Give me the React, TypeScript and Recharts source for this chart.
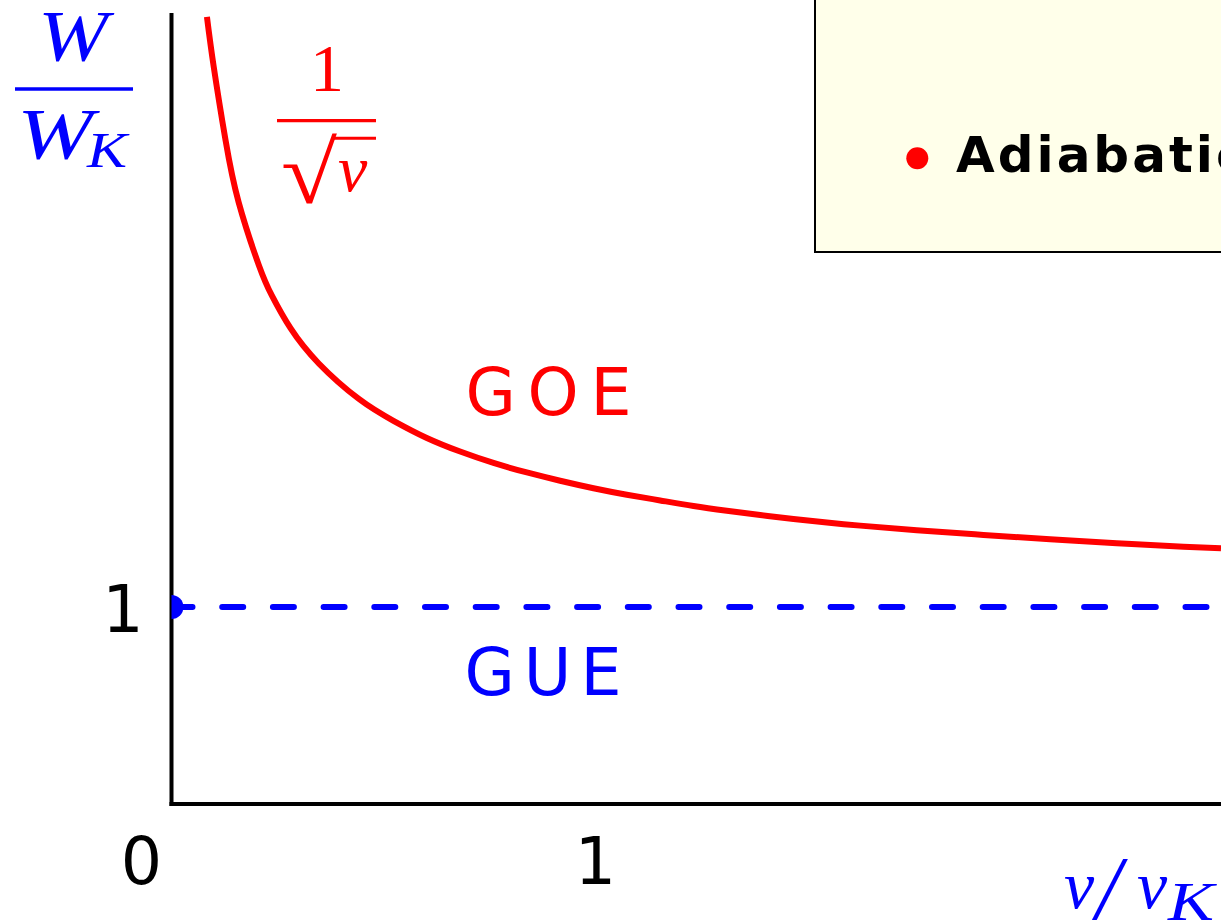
import React from 'react';
import { LineChart, Line, XAxis, YAxis, Legend, ReferenceDot, Label } from 'recharts';

// Width ratio W/W_K against speed v/v_K
const speedRatio = [
  0.084, 0.1, 0.128, 0.159, 0.207, 0.238, 0.282, 0.349, 0.444, 0.526,
  0.605, 0.684, 0.763, 0.842, 0.921, 1.0, 1.079, 1.158, 1.237, 1.316,
  1.395, 1.474, 1.553, 1.632, 1.766, 1.924, 2.082, 2.24, 2.398, 2.487,
];
const goeWidth = [
  3.996, 3.743, 3.37, 3.055, 2.735, 2.58, 2.415, 2.236, 2.056, 1.945,
  1.858, 1.789, 1.731, 1.683, 1.641, 1.603, 1.57, 1.541, 1.513, 1.489,
  1.467, 1.447, 1.429, 1.413, 1.39, 1.366, 1.344, 1.324, 1.306, 1.298,
];
const gueSpeed = [0, 2.487];
const gueWidth = [1, 1];

const xTicks = [0, 1];
const yTicks = [1];
const xDomain = [0, 2.487];
const yDomain = [0, 4.005];

const goeData = speedRatio.map((v, i) => ({ v, w: goeWidth[i] }));
const gueData = gueSpeed.map((v, i) => ({ v, w: gueWidth[i] }));

const RED = '#ff0000';
const BLUE = '#0000ff';
const SANS = '"DejaVu Sans", sans-serif';
const SERIF = '"Liberation Serif", "Times New Roman", serif';

function XTick(props: any) {
  const { x, y, payload } = props;
  const origin = payload.value === 0;
  return (
    <text x={origin ? x - 30 : x + 2} y={y + 80} textAnchor="middle" fontFamily={SANS} fontSize={65} fill="#000">
      {payload.value}
    </text>
  );
}

function YTick(props: any) {
  const { x, y, payload } = props;
  return (
    <text x={x - 28} y={y + 25} textAnchor="end" fontFamily={SANS} fontSize={65} fill="#000">
      {payload.value}
    </text>
  );
}

function YTitle() {
  return (
    <g fill={BLUE} fontFamily={SERIF} fontStyle="italic">
      <text x={38} y={60} fontSize={72} textLength={70} lengthAdjust="spacingAndGlyphs">W</text>
      <line x1={15} x2={133} y1={89} y2={89} stroke={BLUE} strokeWidth={3.3} />
      <text x={17} y={158} fontSize={72} textLength={76} lengthAdjust="spacingAndGlyphs">W</text>
      <text x={87} y={167} fontSize={50} textLength={40} lengthAdjust="spacingAndGlyphs">K</text>
    </g>
  );
}

function XTitle() {
  return (
    <g fill={BLUE} fontFamily={SERIF} fontStyle="italic">
      <text x={1064} y={908} fontSize={68}>v</text>
      <text x={1096} y={919} fontSize={90}>/</text>
      <text x={1137} y={908} fontSize={68}>v</text>
      <text x={1168} y={920} fontSize={54} textLength={46} lengthAdjust="spacingAndGlyphs">K</text>
    </g>
  );
}

function center(viewBox: any) {
  return { cx: viewBox.x + (viewBox.width || 0) / 2, cy: viewBox.y + (viewBox.height || 0) / 2 };
}

function RootLabel(props: any) {
  const { cx, cy } = center(props.viewBox);
  return (
    <g fill={RED}>
      <text x={cx} y={cy - 30} textAnchor="middle" fontFamily={SERIF} fontSize={68}>1</text>
      <line x1={cx - 50} x2={cx + 49} y1={cy} y2={cy} stroke={RED} strokeWidth={3.3} />
      <text x={cx - 46} y={cy + 82} fontFamily={SERIF} fontSize={88} textLength={56} lengthAdjust="spacingAndGlyphs">√</text>
      <line x1={cx + 7} x2={cx + 49} y1={cy + 17.5} y2={cy + 17.5} stroke={RED} strokeWidth={3} />
      <text x={cx + 11} y={cy + 70} fontFamily={SERIF} fontStyle="italic" fontSize={66}>v</text>
    </g>
  );
}

function makeWordLabel(text: string, color: string, length: number) {
  return (props: any) => {
    const { cx, cy } = center(props.viewBox);
    return (
      <text x={cx} y={cy} textAnchor="middle" fontFamily={SANS} fontSize={65} fill={color}
        textLength={length} lengthAdjust="spacing">
        {text}
      </text>
    );
  };
}

function LegendBox(props: any) {
  const items = (props.payload || []).filter((p: any) => p.type !== 'none');
  return (
    <div style={{ width: '100%', height: '100%', boxSizing: 'border-box', border: '2px solid #000', background: '#ffffea' }}>
      <svg width={600} height={263} style={{ position: 'absolute', left: 0, top: 0 }}>
        {items.map((it: any) => (
          <g key={it.value}>
            <circle cx={103.3} cy={168.3} r={11} fill={it.color} />
            <text x={142} y={181.7} fontFamily={SANS} fontWeight="bold" fontSize={50} letterSpacing={3} fill="#000">
              {it.value}
            </text>
          </g>
        ))}
      </svg>
    </div>
  );
}

export default function App() {
  const axisLine = { stroke: '#000', strokeWidth: 4, strokeLinecap: 'square' as const };
  return (
    <div style={{ position: 'absolute', left: 0, top: 0, width: 1221, height: 922, overflow: 'hidden', background: '#fff' }}>
      <LineChart width={1221} height={922} margin={{ top: 15, right: 0, bottom: 0, left: 0 }}>
        <XAxis dataKey="v" type="number" domain={xDomain} ticks={xTicks} height={118}
          axisLine={axisLine} tickLine={false} tickSize={0} tickMargin={0} tick={<XTick />} allowDataOverflow>
          <Label content={<XTitle />} />
        </XAxis>
        <YAxis dataKey="w" type="number" domain={yDomain} ticks={yTicks} width={171.5}
          axisLine={axisLine} tickLine={false} tickSize={0} tickMargin={0} tick={<YTick />} allowDataOverflow>
          <Label content={<YTitle />} />
        </YAxis>
        <Legend layout="horizontal" verticalAlign="middle" align="center" width={600} height={263}
          wrapperStyle={{ left: 814, top: -10, width: 600, height: 263 }} content={<LegendBox />} />
        <Line data={gueData} dataKey="w" name="GUE" legendType="none" stroke={BLUE} strokeWidth={6}
          strokeDasharray="21 29.7" strokeLinecap="round" isAnimationActive={false} activeDot={false}
          dot={(p: any) => (p.index === 0
            ? <circle key="gue-start" cx={p.cx} cy={p.cy} r={12} fill={BLUE} />
            : <g key={`gue-${p.index}`} />)} />
        <Line data={goeData} dataKey="w" name="Adiabatic" type="natural" stroke={RED} strokeWidth={6}
          dot={false} activeDot={false} isAnimationActive={false} />
        <ReferenceDot x={0.3685} y={3.4685} r={0} fill="none" stroke="none" label={<RootLabel />} />
        <ReferenceDot x={0.8934} y={1.9746} r={0} fill="none" stroke="none" label={makeWordLabel('GOE', RED, 166)} />
        <ReferenceDot x={0.8803} y={0.5533} r={0} fill="none" stroke="none" label={makeWordLabel('GUE', BLUE, 157)} />
      </LineChart>
    </div>
  );
}
